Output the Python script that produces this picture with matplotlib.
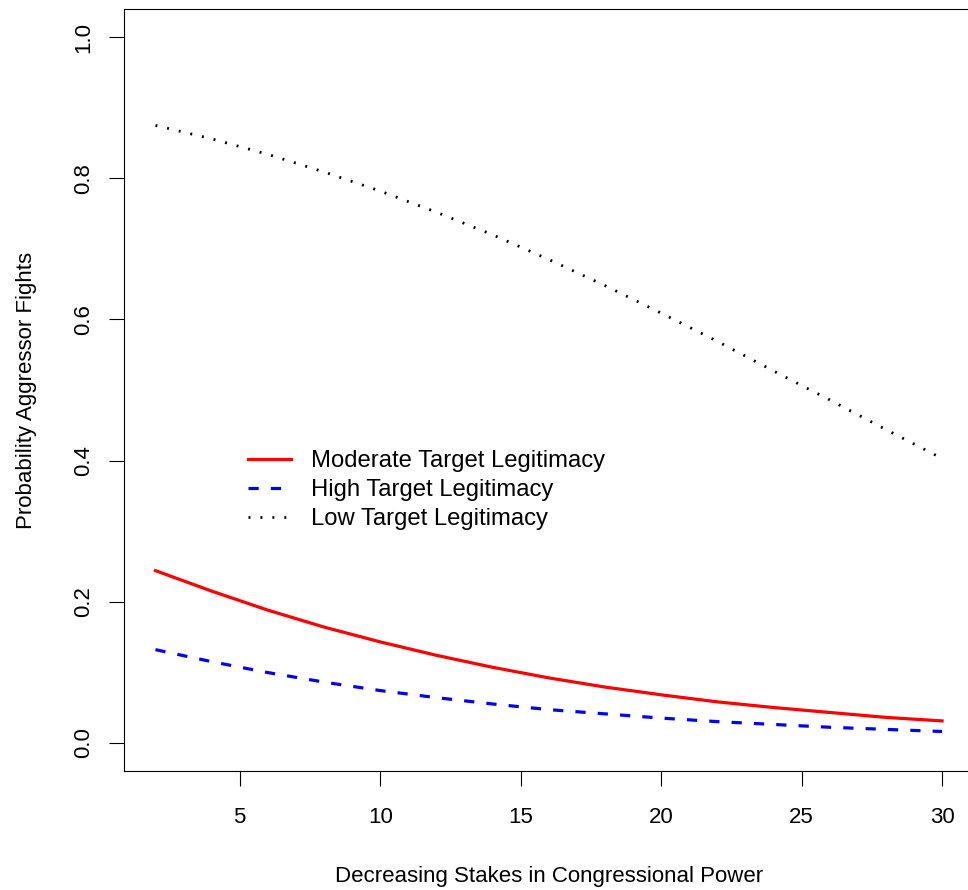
import matplotlib
matplotlib.use('Agg')
import matplotlib.pyplot as plt

plt.rcParams['font.family'] = ['Liberation Sans', 'DejaVu Sans']

stakes = [2, 4, 6, 8, 10, 12, 14, 16, 18, 20, 22, 24, 26, 28, 30]
moderate = [0.244, 0.215, 0.188, 0.164, 0.143, 0.124, 0.107, 0.092, 0.079,
            0.068, 0.058, 0.050, 0.043, 0.036, 0.031]
high = [0.132, 0.115, 0.0995, 0.086, 0.074, 0.064, 0.055, 0.047, 0.041,
        0.035, 0.030, 0.026, 0.022, 0.019, 0.016]
low = [0.875, 0.856, 0.834, 0.809, 0.782, 0.752, 0.720, 0.685, 0.648,
       0.609, 0.569, 0.527, 0.486, 0.444, 0.403]

x_ticks = [5, 10, 15, 20, 25, 30]
y_ticks = [0.0, 0.2, 0.4, 0.6, 0.8, 1.0]

fig = plt.figure(figsize=(9.68, 8.9), dpi=100)
ax = fig.add_axes([0.1281, 0.1337, 0.8776, 0.8562])

ax.plot(stakes, moderate, color='red', lw=2.3, label='Moderate Target Legitimacy')
ax.plot(stakes, high, color='blue', lw=2.3, dashes=(3.2, 3.8), label='High Target Legitimacy')
ax.plot(stakes, low, color='black', lw=2.0, dashes=(0.7, 3.6), label='Low Target Legitimacy')

ax.set_xlim(0.88, 31.12)
ax.set_ylim(-0.04, 1.04)
ax.set_xticks(x_ticks)
ax.set_xticklabels([str(t) for t in x_ticks])
ax.set_yticks(y_ticks)
ax.set_yticklabels(['%.1f' % t for t in y_ticks], rotation=90, va='center')
ax.tick_params(length=11, width=0.8, labelsize=16)
ax.tick_params(axis='x', pad=15)
ax.tick_params(axis='y', pad=10.5)
for s in ax.spines.values():
    s.set_linewidth(0.8)

ax.set_xlabel('Decreasing Stakes in Congressional Power', fontsize=16, labelpad=27)
ax.set_ylabel('Probability Aggressor Fights', fontsize=16, labelpad=26)

ax.legend(loc='upper left', bbox_to_anchor=(0.146, 0.421), frameon=False,
          fontsize=17.2, handlelength=1.8, handletextpad=0.85, labelspacing=0.29,
          borderpad=0, borderaxespad=0)

fig.savefig('out.png', dpi=100)
